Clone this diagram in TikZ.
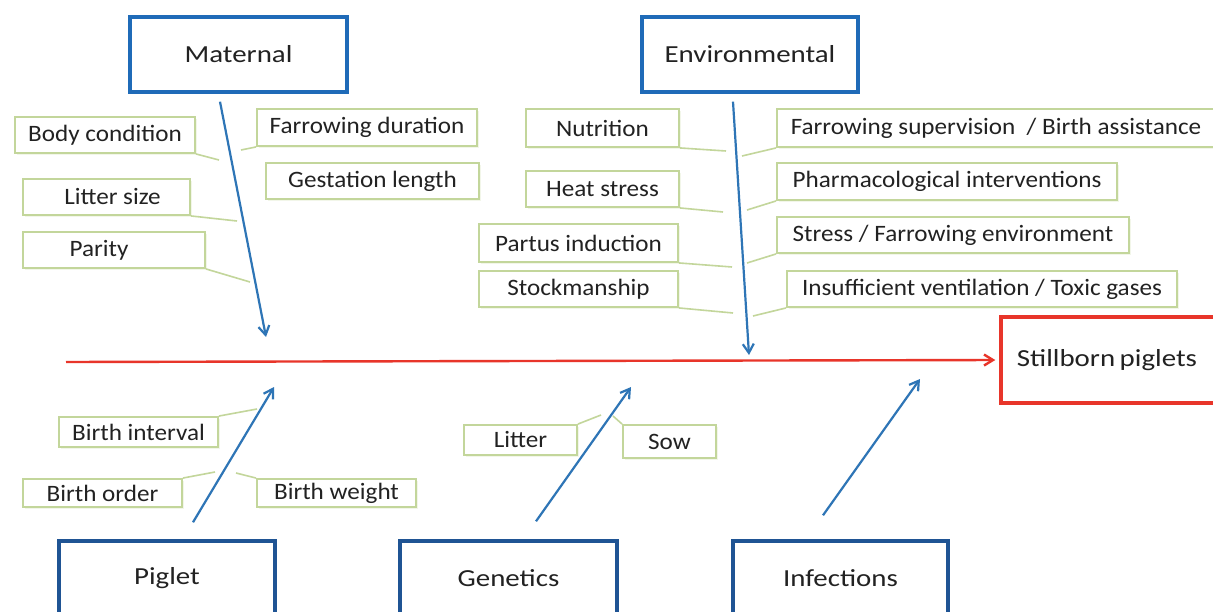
\documentclass[tikz,border=0pt]{standalone}
\usepackage{fontspec}
\setmainfont{Carlito}
\newfontfamily\lblfont[FakeStretch=1.07]{Carlito}
\newfontfamily\hdrfont[FakeStretch=1.18]{Carlito}
\usetikzlibrary{arrows.meta,calc,shadows}
\definecolor{hdrblue}{HTML}{1F6BB8}
\definecolor{botblue}{HTML}{1F5494}
\definecolor{arrblue}{HTML}{2E75B6}
\definecolor{spred}{HTML}{E8352A}
\definecolor{lgreen}{HTML}{C3D69B}
\definecolor{txt}{HTML}{222222}
\begin{document}
\begin{tikzpicture}[x=1pt,y=-1pt,
  hdr/.style={draw=hdrblue,line width=3.4pt,minimum width=217pt,minimum height=75pt,
    font=\hdrfont\fontsize{24.5}{29}\selectfont,text=txt,inner sep=0pt},
  bhdr/.style={hdr,draw=botblue},
  effbox/.style={hdr,draw=spred},
  lbl/.style={draw=lgreen,fill=white,line width=1.9pt,font=\lblfont\fontsize{23.5}{27}\selectfont,
    text=txt,inner sep=0pt,
    drop shadow={opacity=0.3,fill=lgreen!70,shadow xshift=2pt,shadow yshift=-2pt}},
  conn/.style={draw=lgreen,line width=1.6pt},
  barr/.style={draw=arrblue,line width=2.2pt,-{Straight Barb[length=9pt,width=11pt]}},
  rarr/.style={draw=spred,line width=2.4pt,-{Straight Barb[length=9pt,width=11pt]}},
]
\clip (0,0) rectangle (1213,612);
\fill[white] (0,0) rectangle (1213,612);

% header boxes
\node[hdr] (mat) at (238.5,54.5) {Maternal};
\node[hdr,minimum width=216pt] (env) at (750,54.5) {Environmental};
\node[bhdr,minimum width=216pt] (pig) at (167,578.5) {Piglet};
\node[bhdr] (gen) at (508.5,578.5) {Genetics};
\node[bhdr,minimum width=215pt] (inf) at (840.5,578.5) {Infections};
\node[effbox,minimum width=216pt,minimum height=86pt] (still) at (1109,360) {\hspace*{-4pt}Stillborn\hspace{-2pt} piglets};

% maternal labels
\node[lbl,minimum width=180pt,minimum height=36pt] (bc) at (105,135) {Body condition};
\node[lbl,minimum width=220pt,minimum height=37pt] (fd) at (367,127.5) {Farrowing duration};
\node[lbl,minimum width=213pt,minimum height=36pt] (gl) at (372.5,181) {Gestation length};
\node[lbl,minimum width=167pt,minimum height=36pt] (ls) at (106.5,197) {\hspace*{12pt}Litter size};
\node[lbl,minimum width=182pt,minimum height=36pt] (par) at (114,250) {\hspace*{-30pt}Parity};

% environmental labels
\node[lbl,minimum width=153pt,minimum height=38pt] (nut) at (602.5,128) {Nutrition};
\node[lbl,minimum width=153pt,minimum height=36pt] (hs) at (602.5,189) {Heat stress};
\node[lbl,minimum width=199pt,minimum height=38pt] (pi) at (578.5,243) {Partus induction};
\node[lbl,minimum width=199pt,minimum height=36pt] (sm) at (578.5,289) {Stockmanship};
\node[lbl,minimum width=438pt,minimum height=38pt] (fs) at (996,128) {Farrowing supervision \ / Birth assistance};
\node[lbl,minimum width=340pt,minimum height=37pt] (ph) at (947,181.5) {Pharmacological interventions};
\node[lbl,minimum width=352pt,minimum height=36pt] (st) at (953,235) {Stress / Farrowing environment};
\node[lbl,minimum width=390pt,minimum height=36pt] (iv) at (982,289) {Insufficient ventilation / Toxic gases};

% piglet labels
\node[lbl,minimum width=159pt,minimum height=30pt] (bi) at (138.5,432) {Birth interval};
\node[lbl,minimum width=159pt,minimum height=28pt] (bo) at (102.5,493) {Birth order};
\node[lbl,minimum width=159pt,minimum height=28pt] (bw) at (336.5,493) {Birth weight};

% genetics labels
\node[lbl,minimum width=113pt,minimum height=30pt] (lit) at (520.5,440) {Litter};
\node[lbl,minimum width=93pt,minimum height=33pt] (sow) at (669.5,441.5) {Sow};

% arrow ends
\coordinate (ma2) at (266,337);
\coordinate (ea2) at (749,355);
\coordinate (pa2) at (274,387);
\coordinate (ga2) at (631,387);
\coordinate (ia2) at (920,379);
\coordinate (sp1) at (66,362);

% connector ends
\coordinate (bcE) at (219,160);
\coordinate (lsE) at (237,221);
\coordinate (parE) at (250,282);
\coordinate (fdE) at (241,150);
\coordinate (nutE) at (726,151);
\coordinate (hsE) at (723,212);
\coordinate (piE) at (732,267);
\coordinate (smE) at (733,313);
\coordinate (fsE) at (742,156);
\coordinate (phE) at (747,210);
\coordinate (stE) at (747,263);
\coordinate (ivE) at (753,316);
\coordinate (biE) at (257,409);
\coordinate (boE) at (215,472);
\coordinate (bwE) at (236,473);
\coordinate (litE) at (601,415);
\coordinate (sowE) at (613,416);

% connectors
\draw[conn] (bc.south east) -- (bcE);
\draw[conn] (ls.south east) -- (lsE);
\draw[conn] (par.south east) -- (parE);
\draw[conn] (fd.south west) -- (fdE);
\draw[conn] (nut.south east) -- (nutE);
\draw[conn] (hs.south east) -- (hsE);
\draw[conn] (pi.south east) -- (piE);
\draw[conn] (sm.south east) -- (smE);
\draw[conn] (fs.south west) -- (fsE);
\draw[conn] (ph.south west) -- (phE);
\draw[conn] (st.south west) -- (stE);
\draw[conn] (iv.south west) -- (ivE);
\draw[conn] (bi.north east) -- (biE);
\draw[conn] (bo.north east) -- (boE);
\draw[conn] (bw.north west) -- (bwE);
\draw[conn] (lit.north east) -- (litE);
\draw[conn] (sow.north west) -- (sowE);

% main arrows
\draw[rarr,shorten >=4pt] (sp1) -- (still.west);
\draw[barr] ([xshift=-18.5pt,yshift=-8pt]mat.south) -- (ma2);
\draw[barr] ([xshift=-17pt,yshift=-8pt]env.south) -- (ea2);
\draw[barr] ([xshift=26pt,yshift=17pt]pig.north) -- (pa2);
\draw[barr] ([xshift=27.5pt,yshift=18pt]gen.north) -- (ga2);
\draw[barr] ([xshift=-17.5pt,yshift=24pt]inf.north) -- (ia2);
\end{tikzpicture}
\end{document}
